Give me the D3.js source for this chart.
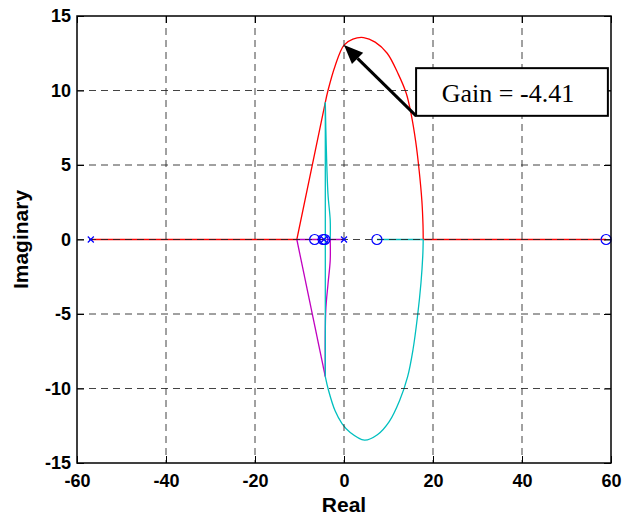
<!DOCTYPE html>
<html>
<head>
<meta charset="utf-8">
<script src="https://cdn.jsdelivr.net/npm/d3@7"></script>
<style>
	body {
		margin: 0;
		background: #fff;
	}

	svg {
		display: block;
	}

	.axis text {
		font-family: "Liberation Sans", Arial, sans-serif;
		font-size: 18px;
		font-weight: bold;
		fill: #000;
	}

	.axis path {
		stroke: none;
	}

	.axis line {
		stroke: #000;
		stroke-width: 1;
	}

	.grid line {
		stroke: #222;
		stroke-width: 1;
		stroke-dasharray: 7 5;
		stroke-opacity: 0.85;
	}

	text.label {
		font-family: "Liberation Sans", Arial, sans-serif;
		font-size: 21px;
		font-weight: bold;
		fill: #000;
	}

	text.gain {
		font-family: "Liberation Serif", "Times New Roman", serif;
		font-size: 26px;
		fill: #000;
	}

	.locus {
		fill: none;
		stroke-width: 1.3;
	}
</style>
</head>
<body>
<div id="chart"></div>
<script>
// tick labels
const xTicks = [-60, -40, -20, 0, 20, 40, 60];
const yTicks = [-15, -10, -5, 0, 5, 10, 15];

// poles (x) and zeros (o) on the real axis
const poles = [-56.9, -4.5, 0];
const zeros = [-6.6, -4.7, -4.3, 7.4, 58.9];

// locus branches as [real, imag] points
const redLeft = [[-56.9, 0], [-10.6, 0], [-4.2, 9.2]];
const redLoop = [
	[-4.2, 9.2], [-3.6, 10], [-2.0, 11.65], [0, 13.05], [2, 13.45], [4.4, 13.55],
	[7, 13.25], [9.7, 12.5], [12.2, 11.1], [14.0, 9.8], [15.1, 8.4], [16.1, 6.6],
	[16.9, 4.6], [17.5, 2.6], [17.75, 1.0], [17.8, 0]
];
const redRight = [[17.8, 0], [58.9, 0]];
const magentaAxis = [[-10.6, 0], [0, 0]];
const magentaDiag = [[-10.6, 0], [-4.2, -9.2]];
const magentaStep = [[-3.1, 0], [-3.1, -1.4], [-3.6, -3.0], [-4.1, -4.8], [-4.2, -9.2]];
const cyanStep = [[-3.1, 0], [-3.1, 1.3], [-3.6, 3.05], [-4.0, 6.4], [-4.2, 9.2]];
const cyanVert = [[-4.2, 9.2], [-4.2, -9.2]];
const cyanLoop = [
	[-4.2, -9.2], [-3.5, -10.1], [-2.0, -11.5], [-0.45, -12.35], [1.4, -12.95], [4.6, -13.46],
	[7.5, -13.1], [10.2, -12.2], [12.5, -10.8], [14.3, -9.2], [15.5, -7.4], [16.5, -5.2],
	[17.3, -2.9], [17.7, -1.1], [17.8, 0]
];
const cyanAxis = [[7.4, 0], [17.8, 0]];

// annotation
const gainText = "Gain = -4.41";
const arrowTip = [0, 13.05];
const gainBox = [16.2, 8.3, 59.3, 11.5];

const margin = { top: 16, right: 12, bottom: 55, left: 77 };
const width = 623 - margin.left - margin.right;
const height = 518 - margin.top - margin.bottom;

const svg = d3.select("#chart")
	.append("svg")
	.attr("width", 623)
	.attr("height", 518);

const chart = svg.append("g")
	.attr("transform", `translate(${margin.left}, ${margin.top})`);

const x = d3.scaleLinear().domain([-60, 60]).range([0, width]);
const y = d3.scaleLinear().domain([-15, 15]).range([height, 0]);

chart.append("defs")
	.append("clipPath")
	.attr("id", "clip")
	.append("rect")
	.attr("width", width)
	.attr("height", height);

// root locus branches
const straight = d3.line().x(d => x(d[0])).y(d => y(d[1]));
const smooth = d3.line().x(d => x(d[0])).y(d => y(d[1])).curve(d3.curveCatmullRom);
const branches = [
	{ pts: redLeft, color: "#ff0000", curved: false },
	{ pts: redLoop, color: "#ff0000", curved: true },
	{ pts: redRight, color: "#ff0000", curved: false },
	{ pts: magentaAxis, color: "#c000c0", curved: false },
	{ pts: magentaDiag, color: "#c000c0", curved: false },
	{ pts: magentaStep, color: "#c000c0", curved: true },
	{ pts: cyanVert, color: "#00bfbf", curved: false },
	{ pts: cyanStep, color: "#00bfbf", curved: true },
	{ pts: cyanLoop, color: "#00bfbf", curved: true },
	{ pts: cyanAxis, color: "#00bfbf", curved: false }
];

const loci = chart.append("g").attr("clip-path", "url(#clip)");
loci.selectAll("path")
	.data(branches)
	.enter()
	.append("path")
	.attr("class", "locus")
	.attr("stroke", d => d.color)
	.attr("d", d => (d.curved ? smooth : straight)(d.pts));

// dashed grid, drawn over the loci like the original
const grid = chart.append("g").attr("class", "grid");
grid.selectAll(".gx")
	.data(xTicks.slice(1, -1))
	.enter()
	.append("line")
	.attr("x1", d => x(d))
	.attr("x2", d => x(d))
	.attr("y1", 0)
	.attr("y2", height);
grid.selectAll(".gy")
	.data(yTicks.slice(1, -1))
	.enter()
	.append("line")
	.attr("x1", 0)
	.attr("x2", width)
	.attr("y1", d => y(d))
	.attr("y2", d => y(d));

// axes, ticks pointing inward
const fmt = d => String(d);
chart.append("g")
	.attr("class", "axis")
	.attr("transform", `translate(0, ${height})`)
	.call(d3.axisBottom(x).tickValues(xTicks).tickFormat(fmt).tickSizeInner(-7).tickSizeOuter(0).tickPadding(11));

chart.append("g")
	.attr("class", "axis")
	.call(d3.axisLeft(y).tickValues(yTicks).tickFormat(fmt).tickSizeInner(-7).tickSizeOuter(0).tickPadding(6));

chart.append("g")
	.attr("class", "axis")
	.call(d3.axisTop(x).tickValues(xTicks).tickSizeInner(-7).tickSizeOuter(0).tickFormat(""));

chart.append("g")
	.attr("class", "axis")
	.attr("transform", `translate(${width}, 0)`)
	.call(d3.axisRight(y).tickValues(yTicks).tickSizeInner(-7).tickSizeOuter(0).tickFormat(""));

// zeros
chart.append("g")
	.selectAll("circle")
	.data(zeros)
	.enter()
	.append("circle")
	.attr("cx", d => x(d))
	.attr("cy", y(0))
	.attr("r", 5)
	.attr("fill", "none")
	.attr("stroke", "#0000ff")
	.attr("stroke-width", 1.2);

// poles
const s = 3;
chart.append("g")
	.selectAll("path")
	.data(poles)
	.enter()
	.append("path")
	.attr("d", d => `M${x(d) - s},${y(0) - s}L${x(d) + s},${y(0) + s}M${x(d) - s},${y(0) + s}L${x(d) + s},${y(0) - s}`)
	.attr("stroke", "#0000ff")
	.attr("stroke-width", 1.2);

// frame
chart.append("rect")
	.attr("width", width)
	.attr("height", height)
	.attr("fill", "none")
	.attr("stroke", "#000")
	.attr("stroke-width", 1.5);

// gain annotation
const bx0 = x(gainBox[0]), by0 = y(gainBox[1]);
const bx1 = x(gainBox[2]), by1 = y(gainBox[3]);
const tx = x(arrowTip[0]), ty = y(arrowTip[1]);

chart.append("rect")
	.attr("x", bx0)
	.attr("y", by1)
	.attr("width", bx1 - bx0)
	.attr("height", by0 - by1)
	.attr("fill", "#fff")
	.attr("stroke", "#000")
	.attr("stroke-width", 2);

chart.append("text")
	.attr("class", "gain")
	.attr("x", (bx0 + bx1) / 2 - 4)
	.attr("y", by1 + 34)
	.attr("text-anchor", "middle")
	.text(gainText);

const dx = tx - bx0, dy = ty - by0;
const len = Math.sqrt(dx * dx + dy * dy);
const ux = dx / len, uy = dy / len;
const headLen = 19, headW = 8;
const baseX = tx - ux * headLen, baseY = ty - uy * headLen;

chart.append("line")
	.attr("x1", bx0)
	.attr("y1", by0)
	.attr("x2", baseX)
	.attr("y2", baseY)
	.attr("stroke", "#000")
	.attr("stroke-width", 3);

chart.append("path")
	.attr("d", `M${tx},${ty}L${baseX - uy * headW},${baseY + ux * headW}L${baseX + uy * headW},${baseY - ux * headW}Z`)
	.attr("fill", "#000");

// axis labels
svg.append("text")
	.attr("class", "label")
	.attr("x", margin.left + width / 2)
	.attr("y", 512)
	.attr("text-anchor", "middle")
	.text("Real");

svg.append("text")
	.attr("class", "label")
	.attr("transform", `translate(28, ${margin.top + height / 2}) rotate(-90)`)
	.attr("text-anchor", "middle")
	.text("Imaginary");
</script>
</body>
</html>
